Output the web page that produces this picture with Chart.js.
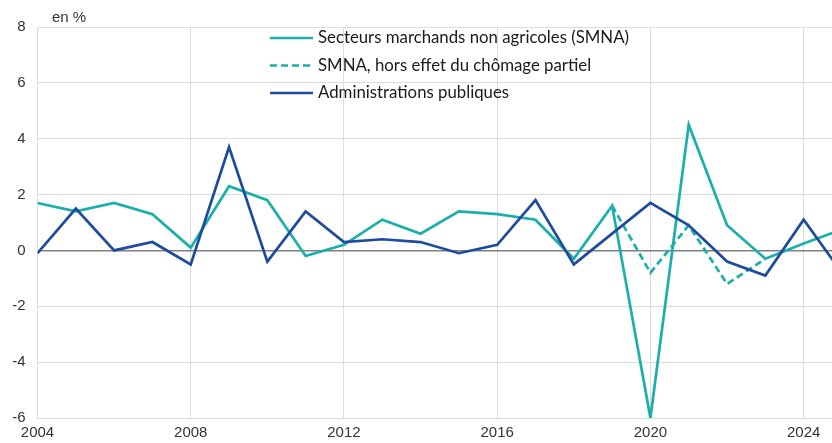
<!DOCTYPE html>
<html>
<head>
<meta charset="utf-8">
<script src="https://cdn.jsdelivr.net/npm/chart.js@4.4.1/dist/chart.umd.min.js"></script>
<style>
  html, body { margin: 0; padding: 0; background: #fff; }
  #wrap { position: relative; width: 832px; height: 443px; }
</style>
</head>
<body>
<div id="wrap"><canvas id="chart"></canvas></div>
<script>
// -----------------------------
// DATA
// -----------------------------
const years = [2004, 2005, 2006, 2007, 2008, 2009, 2010, 2011, 2012, 2013, 2014,
               2015, 2016, 2017, 2018, 2019, 2020, 2021, 2022, 2023, 2024, 2025];
const smna = [1.7, 1.4, 1.7, 1.3, 0.1, 2.3, 1.8, -0.2, 0.2, 1.1, 0.6,
              1.4, 1.3, 1.1, -0.3, 1.6, -6.0, 4.5, 0.9, -0.3, 0.25, 0.75];
const smnaHorsChomage = [null, null, null, null, null, null, null, null, null, null, null,
                         null, null, null, null, 1.6, -0.8, 0.9, -1.2, -0.3, null, null];
const adminPub = [-0.1, 1.5, 0.0, 0.3, -0.5, 3.7, -0.4, 1.4, 0.3, 0.4, 0.3,
                  -0.1, 0.2, 1.8, -0.5, 0.6, 1.7, 0.9, -0.4, -0.9, 1.1, -0.8];
const labels = ["Secteurs marchands non agricoles (SMNA)",
                "SMNA, hors effet du chômage partiel",
                "Administrations publiques"];
const xTicks = [2004, 2008, 2012, 2016, 2020, 2024];
const yTicks = [-6, -4, -2, 0, 2, 4, 6, 8];

const TEAL = "#1aafaa";
const BLUE = "#1f4b9d";

const pts = arr => years.map((y, i) => ({ x: y, y: arr[i] }));

// legend drawn inside the plot + unit label
const insideLegend = {
    id: "insideLegend",
    afterDraw(chart) {
        const ctx = chart.ctx;
        ctx.save();
        ctx.font = "15px 'Liberation Sans'";
        ctx.fillStyle = "#333333";
        ctx.textBaseline = "middle";
        ctx.fillText("en %", 52, 18);

        ctx.font = "16.8px Lato";
        ctx.fillStyle = "#1a1a1a";
        chart.data.datasets.forEach((ds, i) => {
            const y = 38 + i * 27.5;
            ctx.beginPath();
            ctx.strokeStyle = ds.borderColor;
            ctx.lineWidth = ds.borderWidth;
            ctx.setLineDash(ds.borderDash || []);
            ctx.moveTo(270, y);
            ctx.lineTo(313, y);
            ctx.stroke();
            ctx.setLineDash([]);
            ctx.fillText(ds.label, 318, y);
        });
        ctx.restore();
    }
};

new Chart(document.getElementById("chart"), {
    type: "line",
    data: {
        datasets: [{
            label: labels[0],
            data: pts(smna),
            borderColor: TEAL,
            borderWidth: 2.7,
            order: 2
        }, {
            label: labels[1],
            data: pts(smnaHorsChomage),
            borderColor: TEAL,
            borderWidth: 2.7,
            borderDash: [7, 4],
            order: 1
        }, {
            label: labels[2],
            data: pts(adminPub),
            borderColor: BLUE,
            borderWidth: 2.7,
            order: 0
        }]
    },
    options: {
        responsive: true,
        maintainAspectRatio: false,
        devicePixelRatio: 1,
        animation: false,
        layout: { padding: { top: 27, right: 0, left: 0, bottom: 0 } },
        elements: { point: { radius: 0 }, line: { tension: 0, fill: false } },
        plugins: { legend: { display: false }, tooltip: { enabled: false } },
        scales: {
            x: {
                type: "linear",
                min: 2004,
                max: 2024.74,
                afterBuildTicks: s => { s.ticks = xTicks.map(v => ({ value: v })); },
                afterFit: s => { s.height = 25; },
                grid: { color: "#dcdcdc", drawTicks: false },
                border: { color: "#dcdcdc" },
                ticks: {
                    padding: 6,
                    color: "#333333",
                    font: { family: "'Liberation Sans'", size: 15 },
                    maxRotation: 0,
                    callback: v => String(v)
                }
            },
            y: {
                min: -6,
                max: 8,
                afterBuildTicks: s => { s.ticks = yTicks.map(v => ({ value: v })); },
                afterFit: s => { s.width = 37.5; },
                grid: {
                    color: c => c.tick && c.tick.value === 0 ? "#808080" : "#dcdcdc",
                    lineWidth: c => c.tick && c.tick.value === 0 ? 1.5 : 1,
                    drawTicks: false
                },
                border: { color: "#dcdcdc" },
                ticks: {
                    padding: 12,
                    color: "#333333",
                    font: { family: "'Liberation Sans'", size: 15 },
                    callback: v => String(v)
                }
            }
        }
    },
    plugins: [insideLegend]
});
</script>
</body>
</html>
